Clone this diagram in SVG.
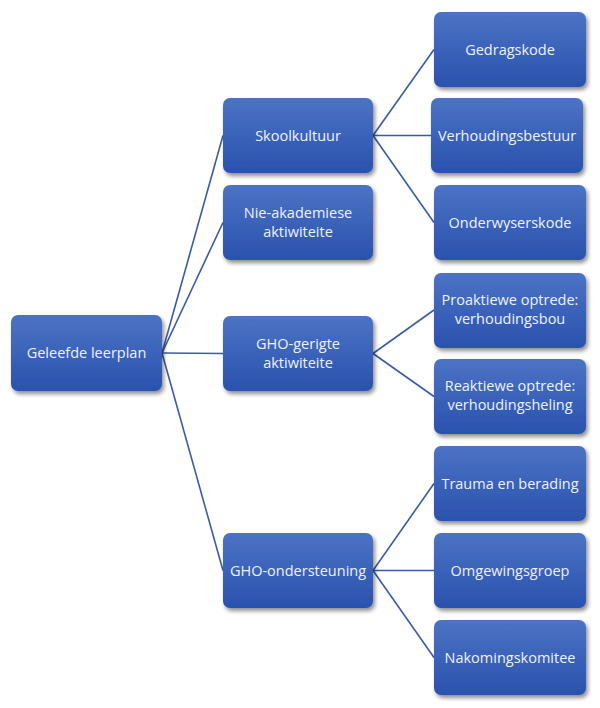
<svg xmlns="http://www.w3.org/2000/svg" width="600" height="708" viewBox="0 0 600 708">
<defs>
<linearGradient id="g" x1="0" y1="0" x2="0" y2="1">
<stop offset="0" stop-color="#4c73c4"/>
<stop offset="1" stop-color="#2a52ae"/>
</linearGradient>
<filter id="sh" x="-10%" y="-10%" width="130%" height="140%">
<feGaussianBlur in="SourceAlpha" stdDeviation="2.2"/>
<feOffset dx="2" dy="3" result="b"/>
<feComponentTransfer><feFuncA type="linear" slope="0.45"/></feComponentTransfer>
<feMerge><feMergeNode/><feMergeNode in="SourceGraphic"/></feMerge>
</filter>
</defs>
<style>
.n rect{fill:url(#g);filter:url(#sh)}
.n text{fill:#eef2fa;font-family:"Open Sans","Liberation Sans",sans-serif;font-size:14.5px;text-anchor:middle}
#c line{stroke:#3a5ba3;stroke-width:1.6}
</style>
<rect width="600" height="708" fill="#fff"/>
<g id="c">
<line x1="162" y1="353" x2="223" y2="135.5"/>
<line x1="162" y1="353" x2="223" y2="222.5"/>
<line x1="162" y1="353" x2="223" y2="353.5"/>
<line x1="162" y1="353" x2="223" y2="570.5"/>
<line x1="373" y1="135.5" x2="434" y2="49.5"/>
<line x1="373" y1="135.5" x2="431" y2="135.5"/>
<line x1="373" y1="135.5" x2="434" y2="222.5"/>
<line x1="373" y1="353.5" x2="434" y2="310"/>
<line x1="373" y1="353.5" x2="434" y2="396.5"/>
<line x1="373" y1="570.5" x2="434" y2="483.5"/>
<line x1="373" y1="570.5" x2="434" y2="570.5"/>
<line x1="373" y1="570.5" x2="434" y2="657.5"/>
</g>
<g id="n-root" class="n"><rect x="11" y="315" width="151" height="76" rx="7"/><text x="86.5" y="358">Geleefde leerplan</text></g>
<g id="n-skool" class="n"><rect x="223" y="98" width="150" height="75" rx="7"/><text x="298" y="140.5">Skoolkultuur</text></g>
<g id="n-nie" class="n"><rect x="223" y="185" width="150" height="75" rx="7"/><text x="298" y="218">Nie-akademiese</text><text x="298" y="237">aktiwiteite</text></g>
<g id="n-gerigte" class="n"><rect x="223" y="316" width="150" height="75" rx="7"/><text x="298" y="349">GHO-gerigte</text><text x="298" y="368">aktiwiteite</text></g>
<g id="n-onder" class="n"><rect x="223" y="533" width="150" height="75" rx="7"/><text x="298" y="575.5">GHO-ondersteuning</text></g>
<g id="n-gedrag" class="n"><rect x="434" y="12" width="152" height="75" rx="7"/><text x="510" y="54.5">Gedragskode</text></g>
<g id="n-verh" class="n"><rect x="431" y="98" width="152" height="75" rx="7"/><text x="507" y="140.5">Verhoudingsbestuur</text></g>
<g id="n-onderw" class="n"><rect x="434" y="185" width="152" height="75" rx="7"/><text x="510" y="227.5">Onderwyserskode</text></g>
<g id="n-pro" class="n"><rect x="434" y="273" width="152" height="75" rx="7"/><text x="510" y="305">Proaktiewe optrede:</text><text x="510" y="324">verhoudingsbou</text></g>
<g id="n-re" class="n"><rect x="434" y="359" width="152" height="75" rx="7"/><text x="510" y="391">Reaktiewe optrede:</text><text x="510" y="410">verhoudingsheling</text></g>
<g id="n-trauma" class="n"><rect x="434" y="446" width="152" height="75" rx="7"/><text x="510" y="488.5">Trauma en berading</text></g>
<g id="n-omg" class="n"><rect x="434" y="533" width="152" height="75" rx="7"/><text x="510" y="575.5">Omgewingsgroep</text></g>
<g id="n-nak" class="n"><rect x="434" y="620" width="152" height="75" rx="7"/><text x="510" y="662.5">Nakomingskomitee</text></g>
</svg>
